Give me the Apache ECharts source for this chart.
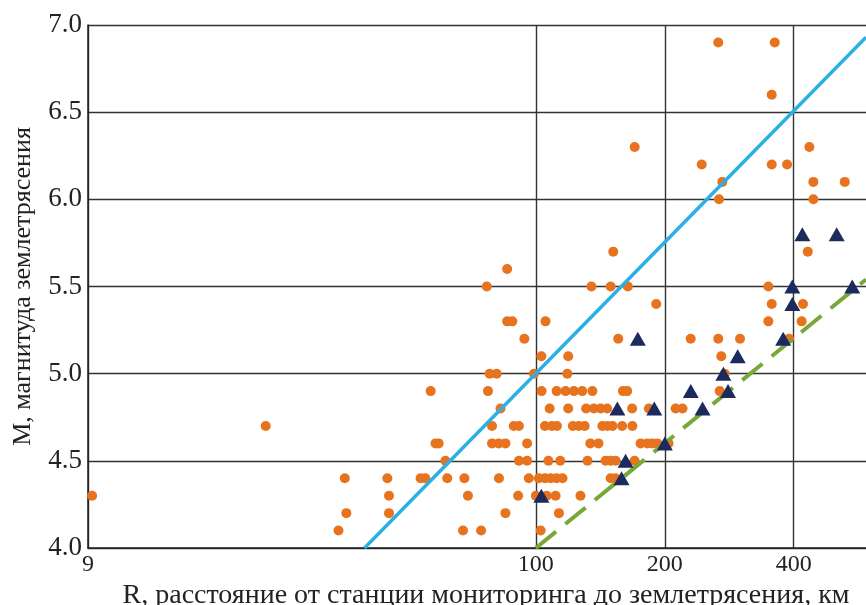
<!DOCTYPE html>
<html>
<head>
<meta charset="utf-8">
<script src="https://cdn.jsdelivr.net/npm/echarts@6/dist/echarts.min.js"></script>
<style>
  html, body { margin: 0; padding: 0; background: #fff; }
  #chart { width: 866px; height: 605px; }
</style>
</head>
<body>
<div id="chart"></div>
<script>
// R (km) and M for each event
const circles = [
  // M 4.1
  [34.6, 4.1], [67.6, 4.1], [74.5, 4.1], [102.6, 4.1],
  // M 4.2
  [36.1, 4.2], [45.4, 4.2], [84.9, 4.2], [113.2, 4.2],
  // M 4.3
  [9.2, 4.3], [45.4, 4.3], [69.4, 4.3], [90.9, 4.3], [100, 4.3], [106, 4.3], [111.2, 4.3], [127.1, 4.3],
  // M 4.4
  [35.8, 4.4], [45, 4.4], [53.8, 4.4], [55.2, 4.4], [62.1, 4.4], [68.1, 4.4], [82, 4.4], [96.3, 4.4],
  [101.6, 4.4], [105, 4.4], [108.3, 4.4], [111.8, 4.4], [115.4, 4.4], [149.5, 4.4], [153.5, 4.4],
  // M 4.5
  [61.5, 4.5], [91.3, 4.5], [95.4, 4.5], [107, 4.5], [114, 4.5], [132, 4.5], [145.5, 4.5], [149.5, 4.5],
  [153.5, 4.5], [170, 4.5],
  // M 4.6
  [58.3, 4.6], [59.3, 4.6], [79, 4.6], [81.9, 4.6], [84.9, 4.6], [95.4, 4.6], [134, 4.6], [140, 4.6],
  [175.6, 4.6], [182.1, 4.6], [187, 4.6], [192.1, 4.6], [204, 4.6],
  // M 4.7
  [23.4, 4.7], [79, 4.7], [88.8, 4.7], [91.3, 4.7], [105, 4.7], [109, 4.7], [112, 4.7], [122, 4.7],
  [126, 4.7], [130, 4.7], [143, 4.7], [147, 4.7], [151, 4.7], [159, 4.7], [168, 4.7],
  // M 4.8
  [82.7, 4.8], [107.7, 4.8], [119, 4.8], [131, 4.8], [136.6, 4.8], [141.6, 4.8], [146.7, 4.8],
  [167.8, 4.8], [183.6, 4.8], [212, 4.8], [220, 4.8],
  // M 4.9
  [56.8, 4.9], [77.3, 4.9], [103.1, 4.9], [111.8, 4.9], [117.3, 4.9], [122.7, 4.9], [128.3, 4.9],
  [135.5, 4.9], [159.7, 4.9], [163.4, 4.9], [268.7, 4.9],
  // M 5.0
  [78, 5.0], [81, 5.0], [99, 5.0], [118.4, 5.0], [276, 5.0],
  // M 5.1
  [103, 5.1], [119, 5.1], [271, 5.1],
  // M 5.2
  [94, 5.2], [155.7, 5.2], [229.9, 5.2], [266.6, 5.2], [299.7, 5.2], [390, 5.2],
  // M 5.3
  [85.7, 5.3], [88.1, 5.3], [105.3, 5.3], [349, 5.3], [417.4, 5.3],
  // M 5.4
  [191, 5.4], [355.4, 5.4], [420.5, 5.4],
  // M 5.5
  [76.8, 5.5], [134.8, 5.5], [149.5, 5.5], [164, 5.5], [349, 5.5],
  // M 5.6 .. 6.9
  [85.7, 5.6],
  [151.6, 5.7], [431.4, 5.7],
  [267.7, 6.0], [444.6, 6.0],
  [272.5, 6.1], [444.6, 6.1], [526.3, 6.1],
  [243.9, 6.2], [355.4, 6.2], [386, 6.2],
  [170.1, 6.3], [435.2, 6.3],
  [355.4, 6.6],
  [266.6, 6.9], [361.2, 6.9]
];

const triangles = [
  [103, 4.3], [158.5, 4.4], [162, 4.5], [200, 4.6],
  [155, 4.8], [189, 4.8], [245, 4.8],
  [230, 4.9], [281, 4.9], [274, 5.0], [296, 5.1],
  [173, 5.2], [378, 5.2],
  [397, 5.4], [397, 5.5], [548, 5.5],
  [419, 5.8], [504, 5.8]
];

// end points of the two straight lines (log R scale)
const upperLine = [[39.8, 4.0], [590, 6.93]];
const lowerLine = [[100, 4.0], [590, 5.54]];

const xTicks = [9, 100, 200, 400];

const font = 'Liberation Serif';

const chart = echarts.init(document.getElementById('chart'));

const option = {
  animation: false,
  grid: { left: 88, right: 0, top: 25, bottom: 57, outerBoundsMode: 'none', containLabel: false },
  xAxis: {
    type: 'log',
    logBase: 10,
    min: 9,
    max: 590,
    name: 'R, расстояние от станции мониторинга до землетрясения, км',
    nameLocation: 'middle',
    nameGap: 25,
    nameTextStyle: { fontFamily: font, fontSize: 28, color: '#222', padding: [0, 0, 0, 18] },
    axisLine: { show: true, onZero: false, lineStyle: { color: '#222', width: 1.5 } },
    axisTick: { show: false, customValues: xTicks },
    axisLabel: {
      customValues: xTicks,
      fontFamily: font, fontSize: 24, color: '#222', margin: 5,
      formatter: v => String(Math.round(v))
    },
    splitLine: { show: true, lineStyle: { color: '#333', width: 1.4 } }
  },
  yAxis: {
    type: 'value',
    min: 4,
    max: 7,
    interval: 0.5,
    name: 'M, магнитуда землетрясения',
    nameLocation: 'middle',
    nameGap: 52,
    nameTextStyle: { fontFamily: font, fontSize: 26, color: '#222' },
    axisLine: { show: true, lineStyle: { color: '#222', width: 1.5 } },
    axisTick: { show: false },
    axisLabel: {
      fontFamily: font, fontSize: 27, color: '#222', margin: 6,
      formatter: v => v.toFixed(1)
    },
    splitLine: { show: true, lineStyle: { color: '#333', width: 1.4 } }
  },
  series: [
    {
      type: 'scatter',
      data: circles,
      symbol: 'circle',
      symbolSize: 10,
      itemStyle: { color: '#E8731F', opacity: 1 },
      z: 2
    },
    {
      type: 'line',
      data: upperLine,
      showSymbol: false,
      clip: true,
      lineStyle: { color: '#2AB0E4', width: 3.5 },
      z: 3
    },
    {
      type: 'line',
      data: lowerLine,
      showSymbol: false,
      clip: true,
      lineStyle: { color: '#78A83A', width: 4, type: [26, 12] },
      z: 3
    },
    {
      type: 'scatter',
      data: triangles,
      symbol: 'triangle',
      symbolSize: [16, 14],
      itemStyle: { color: '#1C2A5E', opacity: 1 },
      z: 4
    }
  ]
};

chart.setOption(option);
</script>
</body>
</html>
